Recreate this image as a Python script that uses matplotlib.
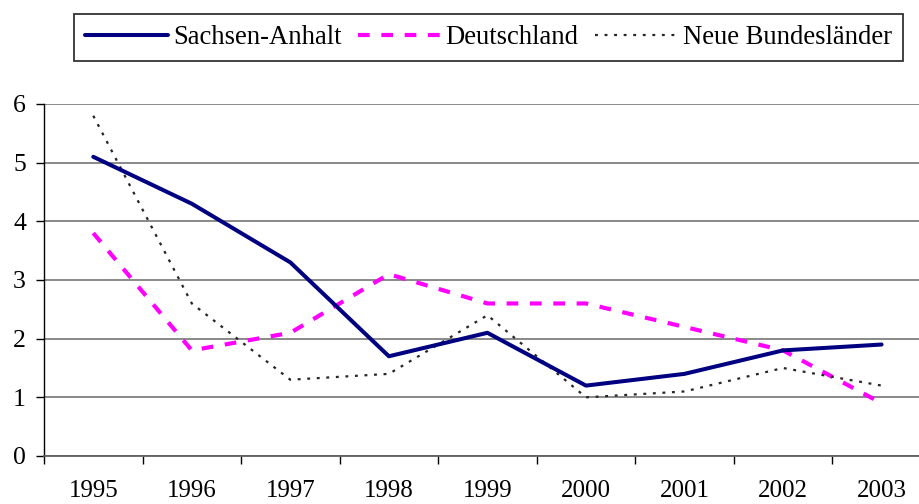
import matplotlib
matplotlib.use("Agg")
import matplotlib.pyplot as plt
import numpy as np

# values
YEARS = ["1995", "1996", "1997", "1998", "1999", "2000", "2001", "2002", "2003"]
SACHSEN_ANHALT = [5.1, 4.3, 3.3, 1.7, 2.1, 1.2, 1.4, 1.8, 1.9]
DEUTSCHLAND = [3.8, 1.8, 2.1, 3.1, 2.6, 2.6, 2.2, 1.8, 0.9]
NEUE_LAENDER = [5.8, 2.6, 1.3, 1.4, 2.4, 1.0, 1.1, 1.5, 1.2]
Y_TICKS = [0, 1, 2, 3, 4, 5, 6]

OUT_PNG = "out.png"

plt.rcParams["font.family"] = ["Liberation Serif", "DejaVu Serif"]


def main():
    fig = plt.figure(figsize=(9.2, 5.04), dpi=100)
    ax = fig.add_axes([44 / 920, 48 / 504, 1 - 44 / 920, 352 / 504])

    x = np.arange(len(YEARS))
    l1, = ax.plot(x, SACHSEN_ANHALT, color="#000080", linewidth=2.9,
                  solid_capstyle="round", solid_joinstyle="round", zorder=4)
    l2, = ax.plot(x, DEUTSCHLAND, color="#FF00FF", linewidth=3.0,
                  linestyle=(0, (2.8, 2.8)), zorder=3)
    l3, = ax.plot(x, NEUE_LAENDER, color="#262626", linewidth=1.6,
                  linestyle=(0, (1.3, 3.0)), zorder=3)

    ax.set_ylim(0, 6)
    ax.set_xlim(-0.5, 8.39)
    ax.set_yticks(Y_TICKS)
    ax.set_xticks(x)
    ax.set_xticklabels(YEARS)
    ax.set_xticks(np.arange(-0.5, 8.0, 1.0), minor=True)
    ax.tick_params(axis="x", which="major", length=0, pad=17, labelsize=18)
    ax.tick_params(axis="x", which="minor", length=5.5, width=1.0,
                   direction="out", color="black")
    ax.tick_params(axis="y", length=6, width=1.0, pad=7, labelsize=18.5,
                   color="black")

    ax.grid(axis="y", color="#808080", linewidth=1.3)
    ax.set_axisbelow(True)
    for side in ("top", "right"):
        ax.spines[side].set_visible(False)
    ax.spines["left"].set_color("black")
    ax.spines["bottom"].set_color("#606060")
    ax.spines["bottom"].set_linewidth(1.3)
    ax.spines["left"].set_linewidth(1.0)

    leg = fig.legend([l1, l2, l3],
                     ["Sachsen-Anhalt", "Deutschland", "Neue Bundesländer"],
                     loc="upper left", bbox_to_anchor=(74 / 920, 1 - 14 / 504),
                     ncol=3, fontsize=19.2, frameon=True, fancybox=False,
                     handlelength=3.1, handletextpad=0.2, columnspacing=0.6,
                     borderpad=0.42, borderaxespad=0)
    frame = leg.get_frame()
    frame.set_edgecolor("#333333")
    frame.set_linewidth(1.3)
    frame.set_alpha(1)

    fig.savefig(OUT_PNG, dpi=100)


if __name__ == "__main__":
    main()
